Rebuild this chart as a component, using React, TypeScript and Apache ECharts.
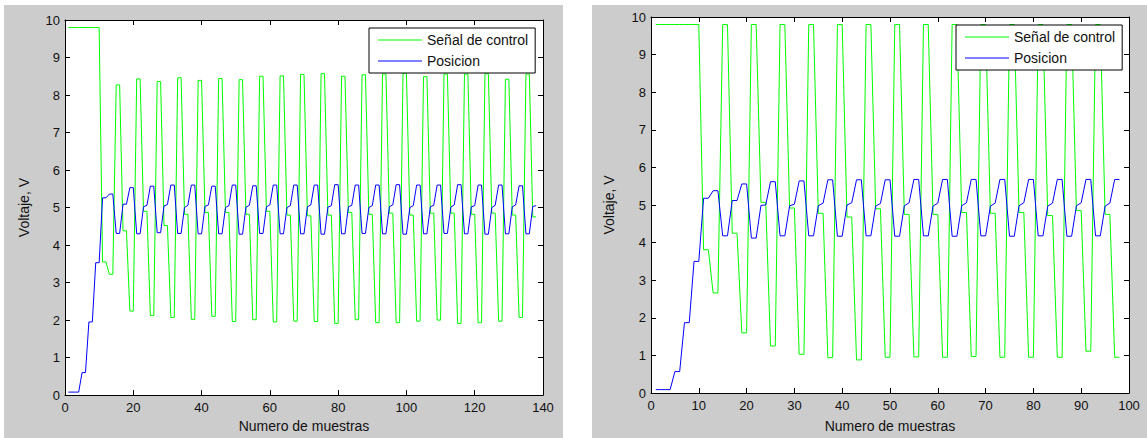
import React, { useEffect, useRef } from "react";
import * as echarts from "echarts";

const SERIES_NAMES = ["Señal de control", "Posicion"];
const X_NAME = "Numero de muestras";
const Y_NAME = "Voltaje, V";

// Left experiment (138 samples)
const leftControl = [
  9.8, 9.8, 9.8, 9.8, 9.8, 9.8, 9.8, 9.8, 9.8, 9.8,
  3.55, 3.55, 3.22, 3.22,
  8.27, 8.27, 4.38, 4.38, 2.24, 2.24,
  8.43, 8.43, 4.9, 4.9, 2.12, 2.12,
  8.36, 8.36, 4.52, 4.52, 2.07, 2.07,
  8.46, 8.46, 4.82, 4.82, 2.02, 2.02,
  8.39, 8.39, 4.87, 4.87, 2.1, 2.1,
  8.44, 8.44, 4.87, 4.87, 1.96, 1.96,
  8.41, 8.41, 4.82, 4.82, 2.01, 2.01,
  8.5, 8.5, 4.9, 4.9, 1.95, 1.95,
  8.51, 8.51, 4.8, 4.8, 1.97, 1.97,
  8.55, 8.55, 4.78, 4.78, 1.96, 1.96,
  8.57, 8.57, 4.8, 4.8, 1.91, 1.91,
  8.5, 8.5, 4.87, 4.87, 2.01, 2.01,
  8.54, 8.54, 4.82, 4.82, 1.93, 1.93,
  8.56, 8.56, 4.85, 4.85, 1.93, 1.93,
  8.58, 8.58, 4.8, 4.8, 1.97, 1.97,
  8.49, 8.49, 4.85, 4.85, 2.0, 2.0,
  8.56, 8.56, 4.85, 4.85, 1.91, 1.91,
  8.56, 8.56, 4.82, 4.82, 1.93, 1.93,
  8.57, 8.57, 4.85, 4.85, 1.97, 1.97,
  8.42, 8.42, 4.8, 4.8, 2.07, 2.07,
  8.56, 8.56, 4.75, 4.75,
];

const leftPosition = [
  0.08, 0.08, 0.08, 0.08, 0.6, 0.6, 1.95, 1.95, 3.53, 3.53,
  5.26, 5.26, 5.36, 5.36,
  4.31, 4.31, 5.09, 5.09, 5.53, 5.53,
  4.3, 4.3, 5.02, 5.06, 5.57, 5.57,
  4.33, 4.33, 5.04, 5.08, 5.6, 5.6,
  4.31, 4.31, 5.0, 5.06, 5.6, 5.6,
  4.3, 4.3, 5.03, 5.07, 5.57, 5.57,
  4.3, 4.3, 5.0, 5.05, 5.6, 5.6,
  4.29, 4.29, 5.01, 5.06, 5.58, 5.58,
  4.31, 4.31, 5.02, 5.07, 5.6, 5.6,
  4.3, 4.3, 5.0, 5.05, 5.6, 5.6,
  4.3, 4.3, 5.02, 5.07, 5.6, 5.6,
  4.29, 4.29, 5.01, 5.05, 5.61, 5.61,
  4.3, 4.3, 5.02, 5.06, 5.6, 5.6,
  4.31, 4.31, 5.0, 5.05, 5.6, 5.6,
  4.3, 4.3, 5.02, 5.07, 5.61, 5.61,
  4.29, 4.29, 5.0, 5.05, 5.6, 5.6,
  4.3, 4.3, 5.02, 5.06, 5.6, 5.6,
  4.31, 4.31, 5.01, 5.07, 5.61, 5.61,
  4.3, 4.3, 5.02, 5.05, 5.6, 5.6,
  4.29, 4.29, 5.0, 5.06, 5.6, 5.6,
  4.3, 4.3, 5.02, 5.07, 5.58, 5.58,
  4.3, 4.3, 5.03, 5.05,
];

// Right experiment (98 samples)
const rightControl = [
  9.8, 9.8, 9.8, 9.8, 9.8, 9.8, 9.8, 9.8, 9.8, 9.8,
  3.81, 3.81, 2.66, 2.66,
  9.8, 9.8, 4.25, 4.25, 1.6, 1.6,
  9.8, 9.8, 5.07, 5.07, 1.25, 1.25,
  9.8, 9.8, 4.92, 4.92, 1.03, 1.03,
  9.8, 9.8, 4.78, 4.78, 0.94, 0.94,
  9.8, 9.8, 4.68, 4.68, 0.88, 0.88,
  9.8, 9.8, 4.9, 4.9, 0.95, 0.95,
  9.8, 9.8, 4.75, 4.75, 0.96, 0.96,
  9.8, 9.8, 4.75, 4.75, 0.95, 0.95,
  9.8, 9.8, 4.8, 4.8, 0.97, 0.97,
  9.8, 9.8, 4.78, 4.78, 0.95, 0.95,
  9.8, 9.8, 4.8, 4.8, 0.95, 0.95,
  9.8, 9.8, 4.72, 4.72, 0.95, 0.95,
  9.8, 9.8, 4.85, 4.85, 1.11, 1.11,
  9.8, 9.8, 4.75, 4.75, 0.95, 0.95,
];

const rightPosition = [
  0.09, 0.09, 0.09, 0.09, 0.57, 0.57, 1.87, 1.87, 3.5, 3.5,
  5.18, 5.18, 5.38, 5.38,
  4.18, 4.18, 5.12, 5.12, 5.56, 5.56,
  4.12, 4.12, 4.99, 5.0, 5.62, 5.62,
  4.18, 4.18, 4.98, 5.02, 5.64, 5.64,
  4.18, 4.18, 4.98, 5.05, 5.67, 5.67,
  4.17, 4.17, 5.0, 5.06, 5.67, 5.67,
  4.18, 4.18, 4.97, 5.04, 5.67, 5.67,
  4.17, 4.17, 4.98, 5.06, 5.68, 5.68,
  4.18, 4.18, 4.97, 5.05, 5.68, 5.68,
  4.17, 4.17, 4.98, 5.06, 5.68, 5.68,
  4.18, 4.18, 4.97, 5.05, 5.68, 5.68,
  4.17, 4.17, 4.98, 5.06, 5.68, 5.68,
  4.18, 4.18, 4.97, 5.05, 5.68, 5.68,
  4.17, 4.17, 4.98, 5.06, 5.68, 5.68,
  4.18, 4.18, 4.97, 5.05, 5.68, 5.68,
];

const LEFT_X_RANGE = [0, 140, 20];
const RIGHT_X_RANGE = [0, 100, 10];
const Y_RANGE = [0, 10, 1];

const toPairs = (arr: number[]) => arr.map((v, i) => [i + 1, v]);

export default function App() {
  const ref = useRef<HTMLDivElement>(null);

  useEffect(() => {
    if (!ref.current) return;
    const chart = echarts.init(ref.current, null, { renderer: "svg" });
    const font = "Arial, 'Liberation Sans', Helvetica, sans-serif";

    const panels = [
      {
        grid: { left: 65, top: 20, width: 478, height: 377 },
        x: LEFT_X_RANGE,
        xNameGap: 23,
        yNameGap: 34,
        legend: { left: 369, top: 28 },
        control: leftControl,
        position: leftPosition,
      },
      {
        grid: { left: 651, top: 17, width: 478, height: 377 },
        x: RIGHT_X_RANGE,
        xNameGap: 26,
        yNameGap: 35,
        legend: { left: 956, top: 25 },
        control: rightControl,
        position: rightPosition,
      },
    ];

    const axisLine = { show: true, onZero: false, lineStyle: { color: "#000", width: 1 } };
    const axisTick = { show: true, inside: true, length: 5, lineStyle: { color: "#000", width: 1 } };
    const labelStyle = { fontSize: 13, color: "#111", fontFamily: font };
    const nameStyle = { fontSize: 14, color: "#111", fontFamily: font };

    const grids: any[] = [];
    const xAxes: any[] = [];
    const yAxes: any[] = [];
    const series: any[] = [];
    const legends: any[] = [];

    panels.forEach((p, gi) => {
      grids.push({
        ...p.grid,
        show: true,
        backgroundColor: "#ffffff",
        borderWidth: 0,
        containLabel: false,
      });
      const [xmin, xmax, xint] = p.x;
      const [ymin, ymax, yint] = Y_RANGE;
      xAxes.push({
        gridIndex: gi,
        type: "value",
        position: "bottom",
        min: xmin,
        max: xmax,
        interval: xint,
        axisLine,
        axisTick,
        axisLabel: { ...labelStyle, margin: 6 },
        splitLine: { show: false },
        name: X_NAME,
        nameLocation: "middle",
        nameGap: p.xNameGap,
        nameTextStyle: nameStyle,
      });
      xAxes.push({
        gridIndex: gi,
        type: "value",
        position: "top",
        min: xmin,
        max: xmax,
        interval: xint,
        axisLine,
        axisTick,
        axisLabel: { show: false },
        splitLine: { show: false },
      });
      yAxes.push({
        gridIndex: gi,
        type: "value",
        position: "left",
        min: ymin,
        max: ymax,
        interval: yint,
        axisLine,
        axisTick,
        axisLabel: { ...labelStyle, margin: 5 },
        splitLine: { show: false },
        name: Y_NAME,
        nameLocation: "middle",
        nameGap: p.yNameGap,
        nameRotate: 90,
        nameTextStyle: nameStyle,
      });
      yAxes.push({
        gridIndex: gi,
        type: "value",
        position: "right",
        min: ymin,
        max: ymax,
        interval: yint,
        axisLine,
        axisTick,
        axisLabel: { show: false },
        splitLine: { show: false },
      });
      series.push({
        type: "line",
        name: SERIES_NAMES[0],
        xAxisIndex: gi * 2,
        yAxisIndex: gi * 2,
        data: toPairs(p.control),
        symbol: "none",
        showSymbol: false,
        lineStyle: { color: "#00ff00", width: 1 },
        itemStyle: { color: "#00ff00" },
        emphasis: { disabled: true },
        z: 2,
      });
      series.push({
        type: "line",
        name: SERIES_NAMES[1],
        xAxisIndex: gi * 2,
        yAxisIndex: gi * 2,
        data: toPairs(p.position),
        symbol: "none",
        showSymbol: false,
        lineStyle: { color: "#0000ff", width: 1 },
        itemStyle: { color: "#0000ff" },
        emphasis: { disabled: true },
        z: 3,
      });
      legends.push({
        left: p.legend.left,
        top: p.legend.top,
        orient: "vertical",
        data: SERIES_NAMES,
        icon: "rect",
        itemWidth: 44,
        itemHeight: 1,
        itemGap: 7,
        padding: [5, 7, 5, 9],
        backgroundColor: "#ffffff",
        borderColor: "#000",
        borderWidth: 1,
        borderRadius: 0,
        selectedMode: false,
        textStyle: { fontSize: 14, color: "#111", fontFamily: font, lineHeight: 14 },
      });
    });

    chart.setOption({
      animation: false,
      backgroundColor: "#ffffff",
      graphic: [
        { type: "rect", z: -10, silent: true, shape: { x: 4, y: 5, width: 559, height: 433 }, style: { fill: "#cccccc" } },
        { type: "rect", z: -10, silent: true, shape: { x: 592, y: 5, width: 555, height: 433 }, style: { fill: "#cccccc" } },
      ],
      grid: grids,
      xAxis: xAxes,
      yAxis: yAxes,
      legend: legends,
      series,
    });

    return () => chart.dispose();
  }, []);

  return (
    <div
      ref={ref}
      style={{ position: "absolute", left: 0, top: 0, width: 1147, height: 438, background: "#fff" }}
    />
  );
}
